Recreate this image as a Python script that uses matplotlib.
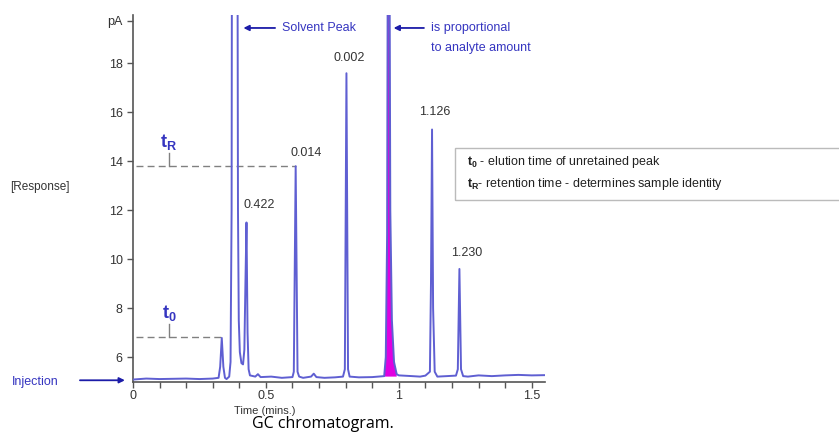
import numpy as np
import matplotlib.pyplot as plt
from matplotlib.patches import Rectangle

plt.rcParams['font.family'] = ['Liberation Sans', 'DejaVu Sans']
plt.rcParams['mathtext.fontset'] = 'custom'
plt.rcParams['mathtext.rm'] = 'Liberation Sans'
plt.rcParams['mathtext.bf'] = 'Liberation Sans:bold'

# trace (time in min, response in pA); tall peaks run off scale
trace_time = [0.0, 0.05, 0.1, 0.15, 0.2, 0.25, 0.3, 0.322, 0.328, 0.334, 0.34, 0.346, 0.352,
              0.362, 0.367, 0.371, 0.373, 0.392, 0.395, 0.398, 0.402, 0.408, 0.414,
              0.419, 0.423, 0.427, 0.431, 0.435, 0.44, 0.46, 0.47, 0.48, 0.52, 0.56, 0.6,
              0.605, 0.612, 0.619, 0.625, 0.64, 0.67, 0.68, 0.69, 0.72, 0.76, 0.79,
              0.797, 0.803, 0.809, 0.815, 0.85, 0.9, 0.945, 0.951, 0.956, 0.960, 0.963,
              0.968, 0.974, 0.982, 0.992, 1.0, 1.05, 1.08, 1.1, 1.117, 1.121, 1.125, 1.129,
              1.135, 1.145, 1.18, 1.215, 1.222, 1.228, 1.234, 1.242, 1.26, 1.3, 1.35, 1.4,
              1.45, 1.5, 1.55]
trace_resp = [5.08, 5.12, 5.1, 5.11, 5.12, 5.1, 5.12, 5.15, 5.6, 6.78, 5.6, 5.15, 5.1,
              5.2, 5.8, 12.0, 30.0, 30.0, 12.0, 7.5, 6.2, 5.75, 5.7,
              6.3, 9.0, 11.5, 7.0, 5.5, 5.25, 5.2, 5.3, 5.18, 5.2, 5.15, 5.18,
              5.4, 13.8, 5.4, 5.2, 5.15, 5.2, 5.32, 5.18, 5.15, 5.17, 5.2,
              5.5, 17.6, 5.5, 5.2, 5.17, 5.18, 5.22, 6.0, 11.0, 30.0, 30.0,
              12.0, 7.5, 5.8, 5.3, 5.25, 5.22, 5.2, 5.24, 5.4, 9.0, 15.3, 8.0,
              5.4, 5.2, 5.22, 5.24, 5.5, 9.6, 5.5, 5.22, 5.2, 5.25, 5.22, 5.25,
              5.27, 5.25, 5.26]

peak_labels = ['0.422', '0.014', '0.002', '1.126', '1.230']
peak_time = [0.427, 0.612, 0.803, 1.125, 1.228]
peak_height = [11.5, 13.8, 17.6, 15.3, 9.6]

t0_time, t0_resp = 0.334, 6.8
tr_time, tr_resp = 0.612, 13.8
area_start, area_end = 0.945, 0.992

x_ticks = [0, 0.1, 0.2, 0.3, 0.4, 0.5, 0.6, 0.7, 0.8, 0.9, 1.0, 1.1, 1.2, 1.3, 1.4, 1.5]
x_tick_labels = ['0', '', '', '', '', '0.5', '', '', '', '', '1', '', '', '', '', '1.5']
y_ticks = [6, 8, 10, 12, 14, 16, 18, 19.75]
y_tick_labels = ['6', '8', '10', '12', '14', '16', '18', 'pA']

line_col = '#5f5fd2'
blue = '#3535c0'
arrow_col = '#1c1ca8'

fig = plt.figure(figsize=(8.39, 4.36), dpi=100)
ax = fig.add_axes([0.1585, 0.125, 0.4911, 0.8417])

t = np.array(trace_time)
r = np.array(trace_resp)
m = (t >= area_start) & (t <= area_end)
ax.fill_between(t[m], 5.2, r[m], color='#e000e0', lw=0, zorder=2)
ax.plot(t, r, color=line_col, lw=1.4, zorder=3)

ax.set_xlim(0, 1.55)
ax.set_ylim(5, 20)
ax.set_xticks(x_ticks)
ax.set_xticklabels(x_tick_labels)
ax.set_yticks(y_ticks)
ax.set_yticklabels(y_tick_labels)
ax.tick_params(axis='both', direction='out', length=4, width=1, color='#555555',
               labelsize=9, labelcolor='#333333')
ax.tick_params(axis='x', pad=2)
for s in ['top', 'right']:
    ax.spines[s].set_visible(False)
for s in ['left', 'bottom']:
    ax.spines[s].set_color('#555555')
    ax.spines[s].set_linewidth(1.2)

# peak labels
offs = [(-2, 8, 'left'), (-4, 5, 'left'), (2, 7, 'center'), (2, 8, 'center'), (5, 7, 'center')]
for lab, pt, ph, (dx, dy, ha) in zip(peak_labels, peak_time, peak_height, offs):
    ax.annotate(lab, (pt, ph), xytext=(dx, dy), textcoords='offset points',
                ha=ha, va='bottom', fontsize=9, color='#333333')

# t0 / tR markers
for tt, rr, lab in [(t0_time, t0_resp, r'$\mathbf{t_0}$'), (tr_time, tr_resp, r'$\mathbf{t_R}$')]:
    ax.plot([0.01, tt], [rr, rr], ls=(0, (5, 3)), color='#808080', lw=1, zorder=1)
    ax.plot([0.135, 0.135], [rr, rr + 0.55], color='#808080', lw=1)
    ax.text(0.135, rr + 0.6, lab, color=blue, fontsize=13, ha='center', va='bottom')

# solvent peak arrow
ax.annotate('', xy=(0.405, 19.45), xytext=(0.545, 19.45),
            arrowprops=dict(arrowstyle='-|>', color=arrow_col, lw=1.3, mutation_scale=8))
ax.text(0.56, 19.45, 'Solvent Peak', color=blue, fontsize=9, va='center')

ax.annotate('', xy=(0.97, 19.45), xytext=(1.105, 19.45),
            arrowprops=dict(arrowstyle='-|>', color=arrow_col, lw=1.3, mutation_scale=8))
ax.text(1.12, 19.45, 'is proportional', color=blue, fontsize=9, va='center')
ax.text(1.12, 18.65, 'to analyte amount', color=blue, fontsize=9, va='center')

# injection arrow
ax.annotate('', xy=(-0.02, 5.05), xytext=(-0.21, 5.05), annotation_clip=False,
            arrowprops=dict(arrowstyle='-|>', color=arrow_col, lw=1.3, mutation_scale=8))
fig.text(12 / 839, 1 - 382 / 436, 'Injection', color=blue, fontsize=9, va='center')

fig.text(10 / 839, 1 - 187 / 436, '[Response]', fontsize=8.5, color='#333333', va='center')
fig.text(265 / 839, 1 - 411 / 436, 'Time (mins.)', fontsize=8, color='#333333',
         ha='center', va='center')
fig.text(323 / 839, 1 - 424 / 436, 'GC chromatogram.', fontsize=11.5, color='black',
         ha='center', va='center', family=['Open Sans', 'DejaVu Sans'])

# key box
fig.patches.append(Rectangle((455 / 839, 1 - 200 / 436), 0.5, 52 / 436,
                             transform=fig.transFigure, fill=False,
                             edgecolor='#bbbbbb', lw=1))
fig.text(467 / 839, 1 - 162 / 436, r'$\mathbf{t_0}$ - elution time of unretained peak',
         fontsize=9, color='#222222', va='center')
fig.text(467 / 839, 1 - 184 / 436, r'$\mathbf{t_R}$- retention time - determines sample identity',
         fontsize=9, color='#222222', va='center')

fig.savefig('out.png', dpi=100)
